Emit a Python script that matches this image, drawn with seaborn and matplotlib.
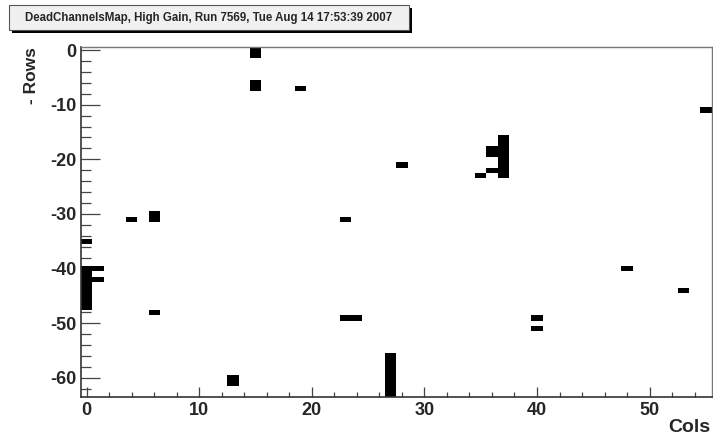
import matplotlib
matplotlib.use("Agg")
import matplotlib.pyplot as plt
from matplotlib.colors import ListedColormap
from matplotlib.patches import Rectangle
from matplotlib.ticker import MultipleLocator
import seaborn as sns
import pandas as pd

title = "DeadChannelsMap, High Gain, Run 7569, Tue Aug 14 17:53:39 2007"
x_label = "Cols"
y_label = "- Rows"

# dead channel (col, -row) pairs
dead_cols = [0, 0, 0, 0, 0, 0, 0, 0, 0, 1, 1,
             4, 6, 6, 6,
             13, 13,
             15, 15, 15, 15, 19,
             23, 23, 24,
             27, 27, 27, 27, 27, 27, 27, 27,
             28,
             35, 36, 36, 36,
             37, 37, 37, 37, 37, 37, 37, 37,
             40, 40, 48, 53, 55]
dead_rows = [-35, -40, -41, -42, -43, -44, -45, -46, -47, -40, -42,
             -31, -30, -31, -48,
             -60, -61,
             0, -1, -6, -7, -7,
             -31, -49, -49,
             -56, -57, -58, -59, -60, -61, -62, -63,
             -21,
             -23, -18, -19, -22,
             -16, -17, -18, -19, -20, -21, -22, -23,
             -49, -51, -40, -44, -11]

x_ticks = [0, 10, 20, 30, 40, 50]
y_ticks = [0, -10, -20, -30, -40, -50, -60]

df = pd.DataFrame({"Cols": dead_cols, "Rows": dead_rows})

sns.set_style("white")
plt.rcParams["font.family"] = ["Liberation Sans", "DejaVu Sans"]
plt.rcParams["font.weight"] = "bold"

fig = plt.figure(figsize=(7.13, 4.37), dpi=100)
ax = fig.add_axes([81 / 713, 1 - 397 / 437, 630.5 / 713, 349.7 / 437])

sns.histplot(data=df, x="Cols", y="Rows", discrete=(True, True),
             cmap=ListedColormap(["black"]), cbar=False, ax=ax,
             linewidth=0)

ax.set_xlim(-0.5, 55.5)
ax.set_ylim(-63.5, 0.5)
ax.set_xlabel("")
ax.set_ylabel("")

ax.set_xticks(x_ticks)
ax.set_xticklabels([str(v) for v in x_ticks])
ax.set_yticks(y_ticks)
ax.set_yticklabels([str(v) for v in y_ticks])
ax.xaxis.set_minor_locator(MultipleLocator(2))
ax.yaxis.set_minor_locator(MultipleLocator(2))

tc = "#444444"
ax.tick_params(axis="x", which="major", direction="in", length=7.2, width=0.9,
               color=tc, labelsize=13, pad=3.5, bottom=True)
ax.tick_params(axis="x", which="minor", direction="in", length=3.6, width=0.9,
               color=tc, bottom=True)
ax.tick_params(axis="y", which="major", direction="in", length=13.7, width=0.9,
               color=tc, labelsize=13, pad=3.2, left=True)
ax.tick_params(axis="y", which="minor", direction="in", length=7.2, width=0.9,
               color=tc, left=True)
for lbl in ax.get_xticklabels() + ax.get_yticklabels():
    lbl.set_fontweight("bold")

for side in ["left", "bottom"]:
    ax.spines[side].set_color("#333333")
    ax.spines[side].set_linewidth(1.2)
for side in ["top", "right"]:
    ax.spines[side].set_color("#777777")
    ax.spines[side].set_linewidth(1.0)

fig.text(31 / 713, 1 - 47 / 437, y_label, rotation=90, ha="center", va="top",
         fontsize=12.5, fontweight="bold")
fig.text(710 / 713, 1 - 427 / 437, x_label, ha="right", va="center",
         fontsize=14, fontweight="bold")

# title box with shadow
bx0, by0, bw, bh = 9 / 713, 1 - 30 / 437, 400 / 713, 25 / 437
fig.patches.append(Rectangle((bx0 + 3 / 713, by0 - 3 / 437), bw, bh,
                             transform=fig.transFigure, facecolor="black",
                             edgecolor="black", linewidth=0, zorder=1))
fig.patches.append(Rectangle((bx0, by0), bw, bh, transform=fig.transFigure,
                             facecolor="#f0f0f0", edgecolor="#555555",
                             linewidth=0.8, zorder=2))
fig.text(bx0 + bw / 2, by0 + bh / 2, title, ha="center", va="center",
         fontsize=8.3, fontweight="bold", zorder=3)

fig.savefig("out.png", dpi=100)
